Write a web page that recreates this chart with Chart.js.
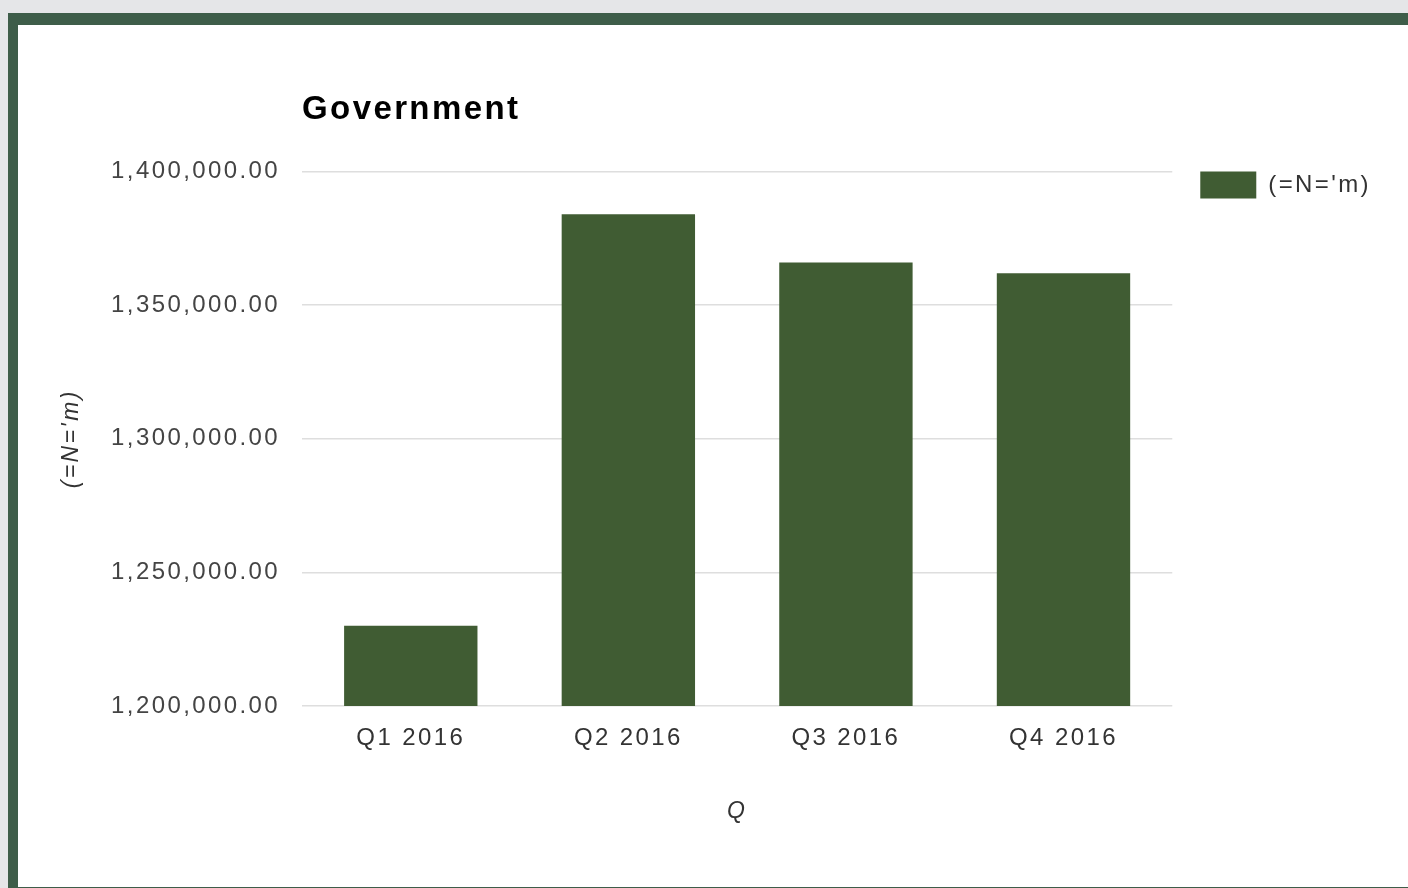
<!DOCTYPE html>
<html lang="en">
<head>
    <meta charset="UTF-8">
    <title>Government</title>
    <style>
        html, body { margin: 0; padding: 0; overflow: hidden; background: #e5e6e8; }
        #frame {
            position: absolute; left: 8px; top: 13px;
            width: 1420px; height: 862px;
            border: solid #3e5d49; border-width: 12px 10px 10px 10px;
            background: #ffffff;
        }
        #myChart { position: absolute; left: 0; top: 0; }
    </style>
</head>
<body>
    <div id="frame"></div>
    <canvas id="myChart" width="1408" height="888"></canvas>

    <script src="https://cdn.jsdelivr.net/npm/chart.js"></script>

    <script>
    const ctx = document.getElementById('myChart');

    var chartTitle = "Government";
    var seriesName = "(=N='m)";
    var xTitle = "Q";
    var quarters = ["Q1 2016", "Q2 2016", "Q3 2016", "Q4 2016"];
    var values = [1230000, 1384000, 1366000, 1362000];
    var yTicks = [1200000, 1250000, 1300000, 1350000, 1400000];

    var barColor = '#405c33';
    var textFont = 'Liberation Sans, Arial, sans-serif';

    // the reference text is a bit wide, so spread the letters
    const spacing = {
        id: 'spacing',
        beforeLayout(chart) { chart.ctx.letterSpacing = '2.4px'; },
        afterLayout(chart) {
            // move the legend down so the box sits level with the top gridline
            if (chart.legend) {
                var shift = chart.chartArea.top - chart.legend.top - 28;
                chart.legend.top += shift;
                chart.legend.bottom += shift;
            }
        },
        beforeDraw(chart) { chart.ctx.letterSpacing = '2.4px'; }
    };

    new Chart(ctx, {
        type: 'bar',
        data: {
            labels: quarters,
            datasets: [{
                label: seriesName,
                data: values,
                backgroundColor: barColor,
                borderWidth: 0,
                barPercentage: 0.613,
                categoryPercentage: 1.0
            }]
        },
        options: {
            responsive: false,
            animation: false,
            layout: {
                padding: { left: 58, top: 90, right: 27, bottom: 52 }
            },
            plugins: {
                title: {
                    display: true,
                    text: chartTitle,
                    align: 'start',
                    fullSize: false,
                    color: '#000000',
                    font: { family: textFont, size: 33, weight: 'bold' },
                    padding: { top: 0, bottom: 42 }
                },
                legend: {
                    position: 'right',
                    align: 'start',
                    labels: {
                        boxWidth: 56,
                        boxHeight: 27,
                        padding: 28,
                        color: '#333333',
                        font: { family: textFont, size: 24 }
                    }
                },
                tooltip: { enabled: false }
            },
            scales: {
                x: {
                    grid: { display: false, drawTicks: false },
                    border: { display: false },
                    ticks: {
                        color: '#333333',
                        padding: 18,
                        font: { family: textFont, size: 24 }
                    },
                    title: {
                        display: true,
                        text: xTitle,
                        color: '#333333',
                        font: { family: textFont, size: 23, style: 'italic' },
                        padding: { top: 0, bottom: 11 }
                    },
                    afterFit(scale) { scale.height = 130; }
                },
                y: {
                    min: yTicks[0],
                    max: yTicks[yTicks.length - 1],
                    grid: { color: '#dedede', lineWidth: 1.5, drawTicks: false },
                    border: { display: false },
                    afterBuildTicks(scale) {
                        scale.ticks = yTicks.map(v => ({ value: v }));
                    },
                    ticks: {
                        color: '#444444',
                        padding: 22,
                        font: { family: textFont, size: 24 },
                        callback: v => v.toLocaleString('en-US', { minimumFractionDigits: 2, maximumFractionDigits: 2 })
                    },
                    title: {
                        display: true,
                        text: seriesName,
                        color: '#333333',
                        font: { family: textFont, size: 23, style: 'italic' },
                        padding: { top: 0, bottom: 0 }
                    },
                    afterFit(scale) { scale.width = 244; }
                }
            }
        },
        plugins: [spacing]
    });
    </script>
</body>
</html>
